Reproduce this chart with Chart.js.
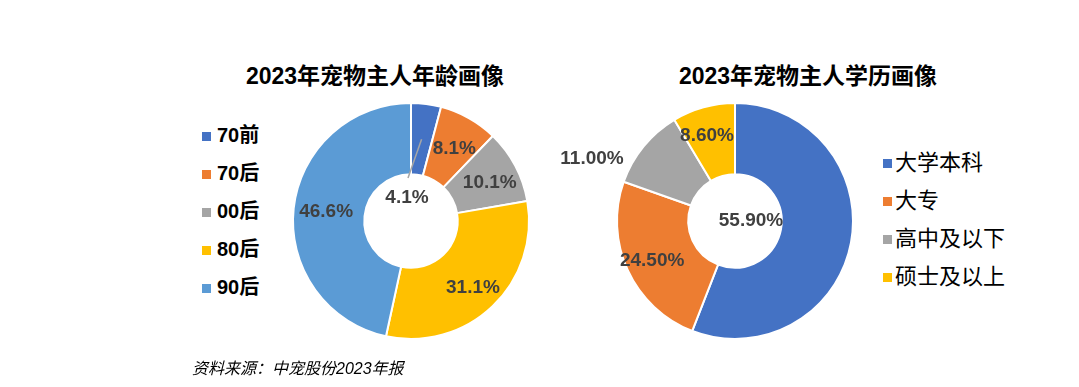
<!DOCTYPE html>
<html lang="zh">
<head>
<meta charset="UTF-8">
<title>2023年宠物主人画像</title>
<script src="https://cdn.jsdelivr.net/npm/chart.js"></script>
<style>
    body {
        margin: 0;
        width: 1079px;
        height: 387px;
        background: #ffffff;
        position: relative;
        overflow: hidden;
        font-family: 'Liberation Sans', Arial, 'Noto Sans CJK SC', sans-serif;
    }
    .title {
        position: absolute;
        top: 57px;
        font-size: 23px;
        font-weight: bold;
        color: #000;
        white-space: nowrap;
        transform: translateX(-50%);
    }
    .legend {
        position: absolute;
        margin: 0;
        padding: 0;
        list-style: none;
    }
    .legend li {
        height: 38px;
        line-height: 38px;
        white-space: nowrap;
        color: #000;
    }
    .legend span {
        display: inline-block;
        width: 9px;
        height: 9px;
        margin-right: 6px;
        vertical-align: 1px;
    }
    #ageLegend { left: 202px; top: 116px; font-size: 20px; font-weight: bold; }
    #eduLegend { left: 883px; top: 144px; font-size: 22px; }
    #eduLegend span { margin-right: 3px; vertical-align: 2px; }
    canvas { position: absolute; }
    #ageChart { left: 251px; top: 71px; }
    #eduChart { left: 545px; top: 71px; }
    .source {
        position: absolute;
        left: 192px;
        top: 355px;
        font-size: 16px;
        font-style: italic;
        color: #000;
    }
</style>
</head>
<body>
<div class="title" style="left:375px">2023年宠物主人年龄画像</div>
<div class="title" style="left:808px">2023年宠物主人学历画像</div>
<ul class="legend" id="ageLegend"></ul>
<ul class="legend" id="eduLegend"></ul>
<canvas id="ageChart" width="320" height="300"></canvas>
<canvas id="eduChart" width="380" height="300"></canvas>
<div class="source">资料来源：中宠股份2023年报</div>

<script>
// 年龄
const ageLabels = ['70前', '70后', '00后', '80后', '90后'];
const ageValues = [4.1, 8.1, 10.1, 31.1, 46.6];
const ageText = ['4.1%', '8.1%', '10.1%', '31.1%', '46.6%'];
const ageColors = ['#4472C4', '#ED7D31', '#A5A5A5', '#FFC000', '#5B9BD5'];

// 学历
const eduLabels = ['大学本科', '大专', '高中及以下', '硕士及以上'];
const eduValues = [55.9, 24.5, 11.0, 8.6];
const eduText = ['55.90%', '24.50%', '11.00%', '8.60%'];
const eduColors = ['#4472C4', '#ED7D31', '#A5A5A5', '#FFC000'];

function fillLegend(id, labels, colors) {
    const ul = document.getElementById(id);
    labels.forEach((l, i) => {
        const li = document.createElement('li');
        const box = document.createElement('span');
        box.style.background = colors[i];
        li.appendChild(box);
        li.appendChild(document.createTextNode(l));
        ul.appendChild(li);
    });
}
fillLegend('ageLegend', ageLabels, ageColors);
fillLegend('eduLegend', eduLabels, eduColors);

// labels drawn on the arcs: mid ring by default (+dx/dy), or {x,y} from the centre
const arcLabels = {
    id: 'arcLabels',
    afterDatasetsDraw(chart, args, opts) {
        const ctx = chart.ctx;
        const arcs = chart.getDatasetMeta(0).data;
        ctx.save();
        ctx.font = 'bold 19px "Liberation Sans", Arial, sans-serif';
        ctx.fillStyle = '#404040';
        ctx.textAlign = 'center';
        ctx.textBaseline = 'middle';
        arcs.forEach((arc, i) => {
            const p = arc.getProps(['x', 'y', 'startAngle', 'endAngle', 'innerRadius', 'outerRadius'], true);
            const mid = (p.startAngle + p.endAngle) / 2;
            const place = (opts.place && opts.place[i]) || {};
            const r0 = (p.innerRadius + p.outerRadius) / 2;
            let lx, ly;
            if (place.x !== undefined) {
                lx = p.x + place.x;
                ly = p.y + place.y;
            } else {
                lx = p.x + Math.cos(mid) * r0 + (place.dx || 0);
                ly = p.y + Math.sin(mid) * r0 + (place.dy || 0);
            }
            if (place.leader) {
                ctx.strokeStyle = '#A6A6A6';
                ctx.lineWidth = 1.5;
                ctx.beginPath();
                ctx.moveTo(p.x + Math.cos(mid) * r0, p.y + Math.sin(mid) * r0);
                ctx.lineTo(lx + 1, ly - 20);
                ctx.stroke();
            }
            ctx.fillText(opts.text[i], lx, ly);
        });
        ctx.restore();
    }
};

function makeDoughnut(id, labels, values, colors, text, place) {
    return new Chart(document.getElementById(id), {
        type: 'doughnut',
        data: {
            labels: labels,
            datasets: [{
                data: values,
                backgroundColor: colors,
                borderColor: '#ffffff',
                borderWidth: 2,
                hoverOffset: 0
            }]
        },
        options: {
            responsive: false,
            animation: false,
            radius: 118,
            cutout: 59,
            events: [],
            plugins: {
                legend: { display: false },
                tooltip: { enabled: false },
                arcLabels: { text: text, place: place }
            }
        },
        plugins: [arcLabels]
    });
}

makeDoughnut('ageChart', ageLabels, ageValues, ageColors, ageText,
    [{ x: -4, y: -23, leader: true }, { dx: 3 }, { dx: 6 }, { dx: 5, dy: 7 }, { dx: -3 }]);
makeDoughnut('eduChart', eduLabels, eduValues, eduColors, eduText,
    [{ x: 16, y: 0 }, { dx: -8, dy: 5 }, { x: -143, y: -62 }, { dx: -6, dy: -6 }]);
</script>
</body>
</html>
